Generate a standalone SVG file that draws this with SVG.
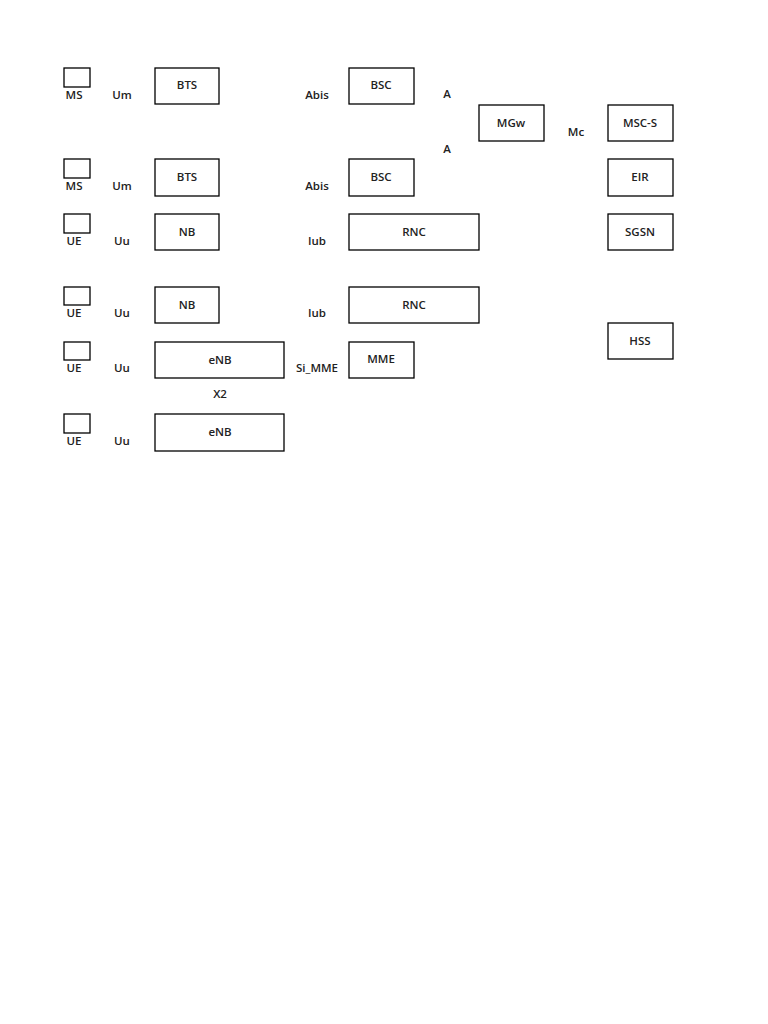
<svg xmlns="http://www.w3.org/2000/svg" width="768" height="1024" viewBox="0 0 768 1024">
<style>
rect{fill:#fff;stroke:#000;stroke-width:1.3}
text{font-family:"Open Sans","Liberation Sans",sans-serif;font-size:11.5px;font-weight:600;fill:#222;text-anchor:middle}
</style>
<rect x="0" y="0" width="768" height="1024" style="stroke:none"/>
<g id="ms1"><rect x="64" y="68" width="26" height="19"/><text x="74" y="99">MS</text></g>
<g id="ms2"><rect x="64" y="159" width="26" height="19"/><text x="74" y="190">MS</text></g>
<g id="ue1"><rect x="64" y="214" width="26" height="19"/><text x="74" y="245">UE</text></g>
<g id="ue2"><rect x="64" y="287" width="26" height="18"/><text x="74" y="317">UE</text></g>
<g id="ue3"><rect x="64" y="342" width="26" height="18"/><text x="74" y="372">UE</text></g>
<g id="ue4"><rect x="64" y="414" width="26" height="19"/><text x="74" y="445">UE</text></g>
<g id="labels">
<text x="122" y="99">Um</text><text x="122" y="190">Um</text>
<text x="122" y="245">Uu</text><text x="122" y="317">Uu</text>
<text x="122" y="372">Uu</text><text x="122" y="445">Uu</text>
<text x="317" y="99">Abis</text><text x="317" y="190">Abis</text>
<text x="317" y="245">Iub</text><text x="317" y="317">Iub</text>
<text x="317" y="372">Si_MME</text>
<text x="447" y="98">A</text><text x="447" y="153">A</text>
<text x="576" y="136">Mc</text>
<text x="220" y="398">X2</text>
</g>
<g id="bts1"><rect x="155" y="68" width="64" height="36"/><text x="187" y="89">BTS</text></g>
<g id="bts2"><rect x="155" y="159" width="64" height="37"/><text x="187" y="181">BTS</text></g>
<g id="nb1"><rect x="155" y="214" width="64" height="36"/><text x="187" y="236">NB</text></g>
<g id="nb2"><rect x="155" y="287" width="64" height="36"/><text x="187" y="309">NB</text></g>
<g id="enb1"><rect x="155" y="342" width="129" height="36"/><text x="220" y="364">eNB</text></g>
<g id="enb2"><rect x="155" y="414" width="129" height="37"/><text x="220" y="436">eNB</text></g>
<g id="bsc1"><rect x="349" y="68" width="65" height="36"/><text x="381" y="89">BSC</text></g>
<g id="bsc2"><rect x="349" y="159" width="65" height="37"/><text x="381" y="181">BSC</text></g>
<g id="rnc1"><rect x="349" y="214" width="130" height="36"/><text x="414" y="236">RNC</text></g>
<g id="rnc2"><rect x="349" y="287" width="130" height="36"/><text x="414" y="309">RNC</text></g>
<g id="mme"><rect x="349" y="342" width="65" height="36"/><text x="381" y="363">MME</text></g>
<g id="mgw"><rect x="479" y="105" width="65" height="36"/><text x="511" y="127">MGw</text></g>
<g id="mscs"><rect x="608" y="105" width="65" height="36"/><text x="640" y="127">MSC-S</text></g>
<g id="eir"><rect x="608" y="159" width="65" height="37"/><text x="640" y="181">EIR</text></g>
<g id="sgsn"><rect x="608" y="214" width="65" height="36"/><text x="640" y="236">SGSN</text></g>
<g id="hss"><rect x="608" y="323" width="65" height="36"/><text x="640" y="345">HSS</text></g>
<g id="connectors"></g>
</svg>
